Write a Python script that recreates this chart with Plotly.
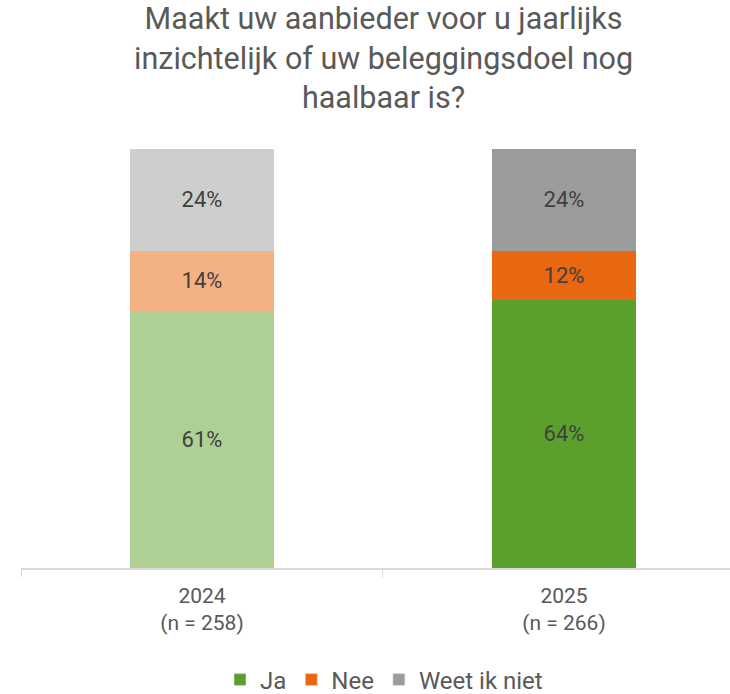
import plotly.graph_objects as go

years = ["2024<br>(n = 258)", "2025<br>(n = 266)"]
series = ["Ja", "Nee", "Weet ik niet"]
ja = [61.3, 64.0]
nee = [14.4, 11.7]
weet = [24.3, 24.3]
values = [ja, nee, weet]
light_colors = ["#AED095", "#F4B183", "#CECECE"]
dark_colors = ["#5BA02D", "#E96710", "#9C9C9C"]

W, H = 730, 694
L, R, T, B = 21, 0, 149, 126
PH = H - T - B
PW = W - L - R
FONT = "Roboto"

fig = go.Figure()
for name, vals, lc, dc in zip(series, values, light_colors, dark_colors):
    fig.add_trace(go.Bar(
        x=years, y=vals, name=name, showlegend=False,
        marker=dict(color=[lc, dc], line=dict(width=0)),
        text=[f"{round(v):.0f}%" for v in vals],
        textposition="inside", insidetextanchor="middle",
        textfont=dict(size=22, color="#404040", family=FONT),
        width=0.4, hoverinfo="skip",
    ))
for name, dc in zip(series, dark_colors):
    fig.add_trace(go.Bar(
        x=[None], y=[None], name=name, marker=dict(color=dc), showlegend=True,
    ))

fig.add_annotation(
    text="Maakt uw aanbieder voor u jaarlijks<br>inzichtelijk of uw beleggingsdoel nog<br>haalbaar is?",
    xref="paper", yref="paper", x=(383 - L) / PW, y=(H - B - 58) / PH,
    xanchor="center", yanchor="middle", showarrow=False,
    font=dict(size=30.5, color="#595959", family=FONT),
)

fig.update_layout(
    width=W, height=H, barmode="stack",
    paper_bgcolor="white", plot_bgcolor="white",
    margin=dict(l=L, r=R, t=T, b=B, autoexpand=False),
    font=dict(family=FONT, color="#595959"),
    legend=dict(
        orientation="h", xref="paper", x=(384 - L) / PW, xanchor="center",
        yref="container", y=1 - 680 / H, yanchor="middle", traceorder="normal",
        font=dict(size=24, color="#595959"), itemwidth=30,
    ),
    uniformtext=dict(minsize=10, mode="show"),
)
fig.update_xaxes(
    type="category", range=[-0.5, 1.4586],
    showline=True, linecolor="#D9D9D9", linewidth=1.5,
    ticks="outside", tickson="boundaries", ticklen=7, tickcolor="#D9D9D9",
    tickfont=dict(size=21, color="#595959"),
    ticklabelstandoff=8,
    showgrid=False, zeroline=False,
)
fig.update_yaxes(range=[0, 100], visible=False, showgrid=False)

fig.write_html(
    "out.html",
    config={"displayModeBar": False},
    post_script="document.body.style.margin='0';document.body.style.padding='0';",
)
